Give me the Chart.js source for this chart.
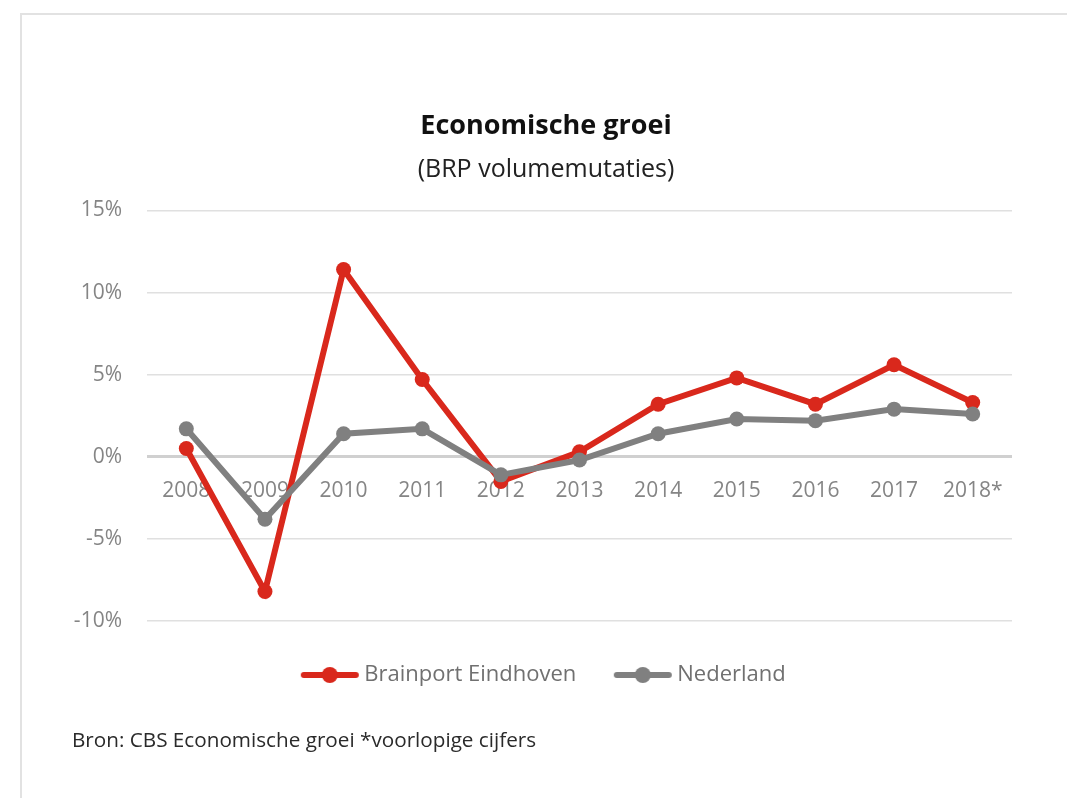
<!DOCTYPE html>
<html>
<head>
<meta charset="utf-8">
<script src="https://cdn.jsdelivr.net/npm/chart.js@4"></script>
<style>
    html, body { margin: 0; padding: 0; background: #fff; }
    #frame {
        position: absolute; left: 20px; top: 13px; width: 1060px; height: 800px;
        border-top: 2px solid #e2e2e2; border-left: 2px solid #e2e2e2;
    }
    #wrap { position: absolute; left: 0; top: 0; width: 1067px; height: 798px; }
    #source {
        position: absolute; left: 72px; top: 729px;
        font: 20.7px/20px "Open Sans", sans-serif; color: #2a2a2a;
    }
</style>
</head>
<body>
<div id="frame"></div>
<div id="wrap"><canvas id="growth-chart" width="1067" height="798"></canvas></div>
<div id="source">Bron: CBS Economische groei *voorlopige cijfers</div>
<script>
// Economische groei — BRP volumemutaties, Brainport Eindhoven vs Nederland

const YEARS = ['2008', '2009', '2010', '2011', '2012', '2013', '2014', '2015', '2016', '2017', '2018*'];
const BRAINPORT = [0.5, -8.2, 11.4, 4.7, -1.5, 0.3, 3.2, 4.8, 3.2, 5.6, 3.3];
const NEDERLAND = [1.7, -3.8, 1.4, 1.7, -1.1, -0.2, 1.4, 2.3, 2.2, 2.9, 2.6];

const COLORS = {
    red: '#d9281c',
    gray: '#808080',
    grid: '#e0e0e0',
    zero: '#d0d0d0',
    tick: '#858585',
};

const FONT = 'Open Sans';

// legend marker: thick line with a dot in the middle
function legendMarker(color) {
    const c = document.createElement('canvas');
    c.width = 60;
    c.height = 18;
    const g = c.getContext('2d');
    g.strokeStyle = color;
    g.lineWidth = 6;
    g.lineCap = 'round';
    g.beginPath();
    g.moveTo(4, 9);
    g.lineTo(56, 9);
    g.stroke();
    g.fillStyle = color;
    g.beginPath();
    g.arc(30, 9, 8, 0, Math.PI * 2);
    g.fill();
    return c;
}

const markers = [legendMarker(COLORS.red), legendMarker(COLORS.gray)];

// the y tick labels hang out into the left padding, widen their clip box
const widenYLabels = {
    id: 'widenYLabels',
    afterLayout(chart) {
        chart.scales.y.left = 40;
    },
};

new Chart(document.getElementById('growth-chart'), {
    type: 'line',
    data: {
        labels: YEARS,
        datasets: [{
            label: 'Brainport Eindhoven',
            data: BRAINPORT,
            borderColor: COLORS.red,
            backgroundColor: COLORS.red,
            borderWidth: 6,
            pointRadius: 7.5,
            pointBorderWidth: 0,
            tension: 0,
            order: 1,
        }, {
            label: 'Nederland',
            data: NEDERLAND,
            borderColor: COLORS.gray,
            backgroundColor: COLORS.gray,
            borderWidth: 6,
            pointRadius: 7.5,
            pointBorderWidth: 0,
            tension: 0,
            order: 0,
        }],
    },
    plugins: [widenYLabels],
    options: {
        responsive: false,
        animation: false,
        devicePixelRatio: 1,
        layout: { padding: { top: 110, left: 80, right: 55, bottom: 102 } },
        plugins: {
            title: {
                display: true,
                text: 'Economische groei',
                color: '#111',
                font: { family: FONT, size: 27, weight: 'bold' },
                padding: { top: 0, bottom: 8 },
            },
            subtitle: {
                display: true,
                text: '(BRP volumemutaties)',
                color: '#222',
                font: { family: FONT, size: 25 },
                padding: { top: 4, bottom: 26 },
            },
            legend: {
                position: 'bottom',
                labels: {
                    usePointStyle: true,
                    pointStyleWidth: 47,
                    color: '#707070',
                    font: { family: FONT, size: 22 },
                    padding: 43,
                    sort: (a, b) => a.datasetIndex - b.datasetIndex,
                    generateLabels: (chart) => {
                        const items = Chart.defaults.plugins.legend.labels.generateLabels(chart);
                        items.forEach(it => { it.pointStyle = markers[it.datasetIndex]; });
                        return items;
                    },
                },
            },
            tooltip: { enabled: false },
        },
        scales: {
            x: {
                position: { y: 0 },
                offset: true,
                grid: { display: false, drawTicks: false },
                border: { display: false },
                ticks: {
                    color: COLORS.tick,
                    font: { family: FONT, size: 21 },
                    padding: 22,
                    maxRotation: 0,
                    autoSkip: false,
                },
            },
            y: {
                min: -10,
                max: 15,
                afterFit: (scale) => { scale.width = 67; },
                grid: {
                    drawTicks: false,
                    color: (ctx) => ctx.tick && ctx.tick.value === 0 ? COLORS.zero : COLORS.grid,
                    lineWidth: (ctx) => ctx.tick && ctx.tick.value === 0 ? 3 : 1.5,
                },
                border: { display: false },
                ticks: {
                    stepSize: 5,
                    color: COLORS.tick,
                    font: { family: FONT, size: 21 },
                    padding: 25,
                    callback: (v) => v + '%',
                },
            },
        },
    },
});
</script>
</body>
</html>
